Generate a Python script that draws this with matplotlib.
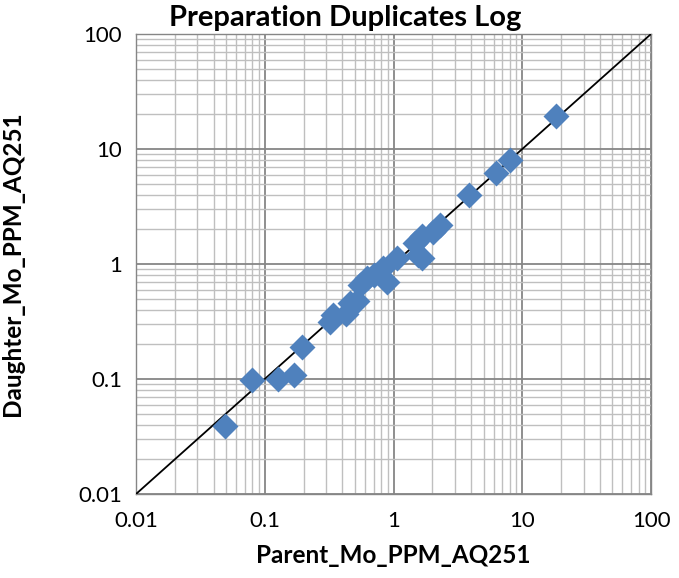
import matplotlib
matplotlib.use('Agg')
import matplotlib.pyplot as plt
from matplotlib.ticker import FixedLocator, FixedFormatter, LogLocator, NullFormatter

parent = [18.3, 8.0, 6.25, 3.86, 2.30, 2.03, 1.66, 1.47, 1.55, 1.66, 1.06,
          0.83, 0.89, 0.62, 0.55, 0.70, 0.46, 0.52, 0.43, 0.34, 0.32,
          0.195, 0.17, 0.127, 0.08, 0.049]
daughter = [19.4, 8.0, 6.2, 3.98, 2.18, 1.90, 1.75, 1.52, 1.20, 1.13, 1.13,
            0.92, 0.70, 0.76, 0.66, 0.80, 0.46, 0.48, 0.37, 0.36, 0.31,
            0.19, 0.108, 0.10, 0.098, 0.039]
ticks = [0.01, 0.1, 1, 10, 100]
tick_labels = ['0.01', '0.1', '1', '10', '100']

plt.rcParams['font.family'] = ['Lato', 'DejaVu Sans']

fig = plt.figure(figsize=(6.79, 5.78), dpi=100)
ax = fig.add_axes([0.2003, 0.1453, 0.7585, 0.7959])
ax.set_xscale('log')
ax.set_yscale('log')
ax.set_xlim(0.01, 100)
ax.set_ylim(0.01, 100)

for axis in (ax.xaxis, ax.yaxis):
    axis.set_major_locator(FixedLocator(ticks))
    axis.set_major_formatter(FixedFormatter(tick_labels))
    axis.set_minor_locator(LogLocator(base=10, subs=range(2, 10)))
    axis.set_minor_formatter(NullFormatter())

ax.grid(which='major', color='#868686', lw=1.3)
ax.grid(which='minor', color='#bfbfbf', lw=1.0)
ax.set_axisbelow(True)
ax.tick_params(which='both', length=0, labelsize=16)
ax.tick_params(axis='x', pad=12)
ax.tick_params(axis='y', pad=10)
for s in ax.spines.values():
    s.set_color('#868686')
    s.set_linewidth(1.0)

ax.plot([0.01, 100], [0.01, 100], color='black', lw=1.3, zorder=3)
ax.scatter(parent, daughter, marker='D', s=175, color='#4F81BD', zorder=4, linewidths=0)

ax.set_xlabel('Parent_Mo_PPM_AQ251', fontsize=17.5, fontweight='bold')
ax.set_ylabel('Daughter_Mo_PPM_AQ251', fontsize=17.5, fontweight='bold')
ax.xaxis.set_label_coords(0.5, -0.108)
ax.yaxis.set_label_coords(-0.218, 0.5)
fig.text(0.508, 0.968, 'Preparation Duplicates Log', ha='center', va='center',
         fontsize=21, fontweight='bold')

fig.savefig('out.png', dpi=100)
